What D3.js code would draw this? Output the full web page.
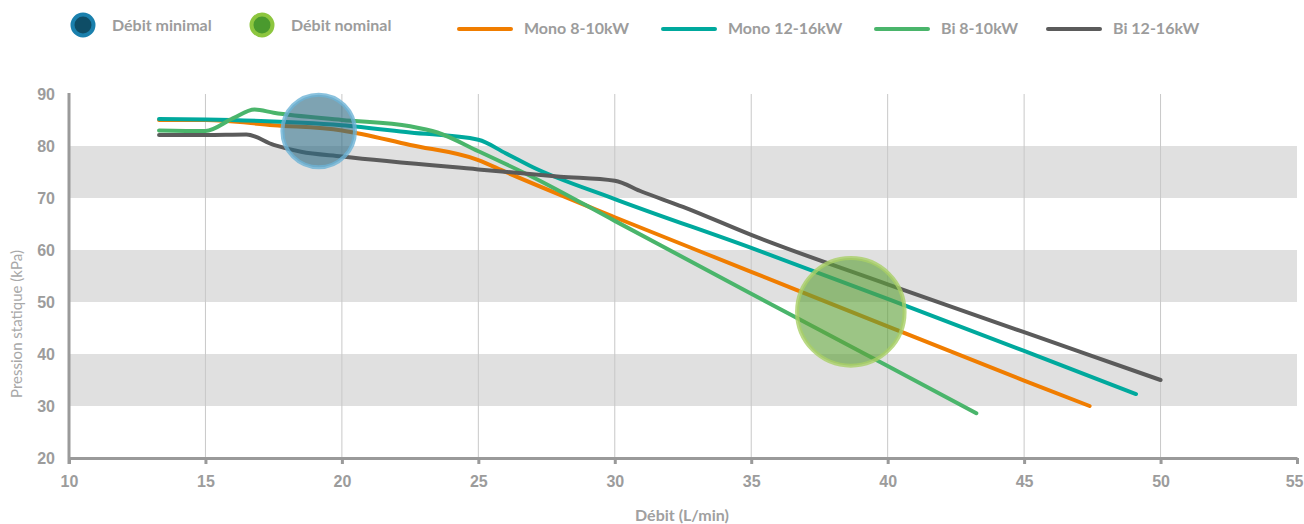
<!DOCTYPE html>
<html>
<head>
<meta charset="utf-8">
<script src="https://cdn.jsdelivr.net/npm/d3@7"></script>
<style>
  body { margin: 0; background: #fff; }
  svg { font-family: Lato, "Open Sans", sans-serif; font-weight: bold; }
  .tick text { fill: #9c9c9c; font-size: 16px; font-weight: bold; }
</style>
</head>
<body>
<svg id="chart" width="1304" height="524"></svg>
<script>
// x : debit (L/min), y : pression statique (kPa)
const xTicks = [10, 15, 20, 25, 30, 35, 40, 45, 50, 55];
const yTicks = [20, 30, 40, 50, 60, 70, 80, 90];
const bands = [[70, 80], [50, 60], [30, 40]];

const mono810 = [[13.3,85],[15,85],[17.5,84],[20,83],[22.5,80.2],[25,77.3],[26,75],[30,66.3],[35,55.8],[40,45.3],[45,34.9],[47.4,30]];
const mono1216 = [[13.3,85.2],[15,85.1],[20,84],[22.5,82.6],[25,81.2],[26,78.6],[27,75.9],[30,69.8],[35,60.4],[40,50.6],[45,40.6],[49.1,32.3]];
const bi810 = [[13.3,83],[15,82.9],[16,85.3],[16.8,87],[17.5,86.4],[20,85],[22.5,83.8],[23.5,82.6],[25,79],[27,74],[30,65.6],[35,51.6],[40,37.7],[43.25,28.6]];
const bi1216 = [[13.3,82.1],[15,82.1],[16.5,82.2],[17.5,80.2],[18.5,78.9],[20,78],[25,75.5],[28,74.1],[30,73.3],[31,71.2],[32.5,68.3],[35,62.9],[40,53.4],[45,44.2],[50,35]];

const seriesNames = ["Mono 8-10kW", "Mono 12-16kW", "Bi 8-10kW", "Bi 12-16kW"];
const seriesColors = ["#f07d00", "#00a99d", "#4ab56b", "#5b5b5b"];
const seriesData = [mono810, mono1216, bi810, bi1216];

// bulles : [debit, pression, rayon en unites de debit]
const bubbleNames = ["Débit minimal", "Débit nominal"];
const bubbles = [[19.15, 82.9, 1.33], [38.65, 48.1, 1.97]];
const bubbleFill = ["#2f6a82", "#5fa23a"];
const bubbleStroke = ["#6db3d6", "#a9cf66"];
const legendFill = ["#0e4d66", "#4a9a2e"];
const legendStroke = ["#1a80ad", "#8dc63f"];

const W = 1304, H = 524;
const margin = {top: 94, right: 7, bottom: 66, left: 69};
const svg = d3.select("#chart");

const x = d3.scaleLinear().domain([10, 55]).range([margin.left, W - margin.right]);
const y = d3.scaleLinear().domain([20, 90]).range([H - margin.bottom, margin.top]);

// bandes grises
svg.append("g").selectAll("rect").data(bands).join("rect")
  .attr("x", x(10)).attr("width", x(55) - x(10))
  .attr("y", d => y(d[1])).attr("height", d => y(d[0]) - y(d[1]))
  .attr("fill", "#e0e0e0");

// grille verticale
svg.append("g").selectAll("line").data(xTicks.filter(d => d > 10 && d < 55)).join("line")
  .attr("x1", d => x(d)).attr("x2", d => x(d))
  .attr("y1", y(90)).attr("y2", y(20))
  .attr("stroke", "#c8c8c8").attr("stroke-width", 1);

// axes
const xAxis = svg.append("g")
  .attr("transform", `translate(0,${y(20)})`)
  .call(d3.axisBottom(x).tickValues(xTicks).tickSize(6).tickPadding(12).tickSizeOuter(0));
xAxis.select(".domain").attr("stroke", "#9a9a9a").attr("stroke-width", 3);
xAxis.selectAll(".tick line").attr("stroke", "#9a9a9a").attr("stroke-width", 3);
xAxis.selectAll(".tick text").filter(d => d == 55).attr("text-anchor", "end").attr("x", 6);

const yAxis = svg.append("g")
  .attr("transform", `translate(${x(10)},0)`)
  .call(d3.axisLeft(y).tickValues(yTicks).tickSize(0).tickPadding(14));
yAxis.select(".domain").remove();
yAxis.selectAll(".tick text").attr("dy", "0.35em");
svg.append("line")
  .attr("x1", x(10)).attr("x2", x(10))
  .attr("y1", y(90) - 1).attr("y2", y(20) + 6)
  .attr("stroke", "#9a9a9a").attr("stroke-width", 3);

// titres d'axes
svg.append("text")
  .attr("transform", `translate(22,324) rotate(-90)`)
  .attr("text-anchor", "middle")
  .attr("fill", "#a8a8a8").attr("font-size", 15).attr("font-weight", "normal")
  .text("Pression statique (kPa)");
svg.append("text")
  .attr("x", 682).attr("y", 521)
  .attr("text-anchor", "middle")
  .attr("fill", "#a0a0a0").attr("font-size", 16)
  .text("Débit (L/min)");

// courbes
const line = d3.line().x(d => x(d[0])).y(d => y(d[1])).curve(d3.curveMonotoneX);
svg.append("g").selectAll("path").data(seriesData).join("path")
  .attr("d", line)
  .attr("fill", "none")
  .attr("stroke", (d, i) => seriesColors[i])
  .attr("stroke-width", 4)
  .attr("stroke-linecap", "round")
  .attr("stroke-linejoin", "round");

// bulles
svg.append("g").selectAll("circle").data(bubbles).join("circle")
  .attr("cx", d => x(d[0])).attr("cy", d => y(d[1]))
  .attr("r", d => x(10 + d[2]) - x(10))
  .attr("fill", (d, i) => bubbleFill[i]).attr("fill-opacity", 0.62)
  .attr("stroke", (d, i) => bubbleStroke[i]).attr("stroke-opacity", 0.8)
  .attr("stroke-width", 4);

// legende
const legBubbleX = [83, 262];
const legBubble = svg.append("g").selectAll("g").data(bubbleNames).join("g")
  .attr("transform", (d, i) => `translate(${legBubbleX[i]},25)`);
legBubble.append("circle").attr("r", 10.5)
  .attr("fill", (d, i) => legendFill[i])
  .attr("stroke", (d, i) => legendStroke[i]).attr("stroke-width", 4);
legBubble.append("text").attr("x", 29).attr("y", 6)
  .attr("fill", "#9c9c9c").attr("font-size", 16)
  .text(d => d);

const legLineX = [458, 662, 875, 1047];
const legLine = svg.append("g").selectAll("g").data(seriesNames).join("g")
  .attr("transform", (d, i) => `translate(${legLineX[i]},29)`);
legLine.append("line").attr("x1", 1).attr("x2", 53)
  .attr("stroke", (d, i) => seriesColors[i]).attr("stroke-width", 4)
  .attr("stroke-linecap", "round");
legLine.append("text").attr("x", 66).attr("y", 5)
  .attr("fill", "#9c9c9c").attr("font-size", 16)
  .text(d => d);
</script>
</body>
</html>
